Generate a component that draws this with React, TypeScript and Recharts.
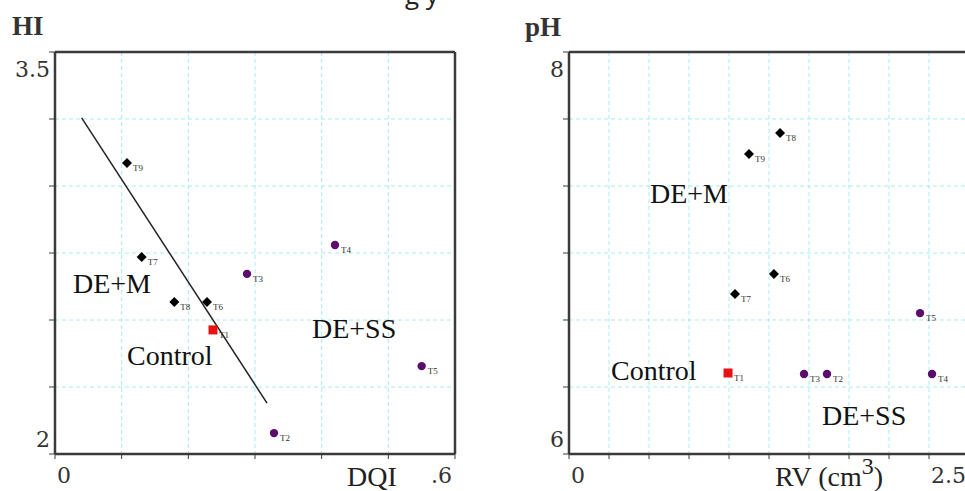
import {
  ScatterChart,
  Scatter,
  XAxis,
  YAxis,
  CartesianGrid,
  ReferenceLine,
  ReferenceDot,
} from "recharts";

// treatments per group, with DQI / HI (left) and RV / pH (right)
const mentNames = ["T6", "T7", "T8", "T9"];
const mentDqi = [0.228, 0.13, 0.179, 0.108];
const mentHi = [2.567, 2.735, 2.567, 3.086];
const mentRv = [1.281, 1.0375, 1.319, 1.125];
const mentPh = [6.896, 6.796, 7.597, 7.493];

const controlNames = ["T1"];
const controlDqi = [0.237];
const controlHi = [2.463];
const controlRv = [0.994];
const controlPh = [6.403];

const ssNames = ["T2", "T3", "T4", "T5"];
const ssDqi = [0.3285, 0.288, 0.42, 0.55];
const ssHi = [2.078, 2.672, 2.78, 2.328];
const ssRv = [1.6125, 1.469, 2.269, 2.194];
const ssPh = [6.398, 6.398, 6.398, 6.701];

// fitted line on the DQI/HI panel
const trendDqi = [0.04, 0.318];
const trendHi = [3.254, 2.19];

const dqiTicks = [0, 0.1, 0.2, 0.3, 0.4, 0.5, 0.6];
const hiTicks = [2, 2.25, 2.5, 2.75, 3, 3.25, 3.5];
const rvTicks = [0, 0.25, 0.5, 0.75, 1, 1.25, 1.5, 1.75, 2, 2.25, 2.5];
const phTicks = [6, 6.3333, 6.6667, 7, 7.3333, 7.6667, 8];

const groupNames = ["DE+M", "Control", "DE+SS"];
const groupDqi = [0.027, 0.108, 0.3855];
const groupHi = [2.601, 2.332, 2.433];
const groupRv = [0.506, 0.2625, 1.581];
const groupPh = [7.249, 6.368, 6.144];

const zip = (names: string[], xs: number[], ys: number[]) =>
  names.map((name, i) => ({ name, x: xs[i], y: ys[i] }));

const SERIF = "Liberation Serif";
const TICKFONT = "DejaVu Serif";
const AXIS = "#3a3a3a";
const GRID = "#a6ecec";

const tag = (p: any) => (
  <text x={p.cx + 6} y={p.cy + 8} fontSize={9} fontFamily={SERIF} fill="#333">
    {p.payload.name}
  </text>
);

const diamond = (p: any) => (
  <g>
    <path
      d={`M${p.cx},${p.cy - 5}L${p.cx + 5},${p.cy}L${p.cx},${p.cy + 5}L${p.cx - 5},${p.cy}Z`}
      fill="#000"
    />
    {tag(p)}
  </g>
);

const dot = (p: any) => (
  <g>
    <circle cx={p.cx} cy={p.cy} r={4.2} fill="#5a0d6a" />
    {tag(p)}
  </g>
);

const square = (p: any) => (
  <g>
    <rect x={p.cx - 4.5} y={p.cy - 4.5} width={9} height={9} fill="#e81212" />
    {tag(p)}
  </g>
);

const yTick = (top: number, bottom: number, topText: string, bottomText: string) => (props: any) => {
  const { x, y, payload } = props;
  const v = payload.value;
  if (v !== top && v !== bottom) return <g />;
  return (
    <text
      x={x + 3}
      y={v === top ? y + 25 : y - 7}
      textAnchor="end"
      fontSize={22}
      fontFamily={TICKFONT}
      fill="#333"
    >
      {v === top ? topText : bottomText}
    </text>
  );
};

const xTick = (first: number, last: number, firstText: string, lastText: string) => (props: any) => {
  const { x, y, payload } = props;
  const v = payload.value;
  if (v !== first && v !== last) return <g />;
  return (
    <text
      x={v === first ? x + 2 : x - 3}
      y={y + 22}
      textAnchor={v === first ? "start" : "end"}
      fontSize={22}
      fontFamily={TICKFONT}
      fill="#333"
    >
      {v === first ? firstText : lastText}
    </text>
  );
};

const groupLabel = (text: string) => (p: any) => (
  <text x={p.cx} y={p.cy} fontSize={28} fontFamily={SERIF} fill="#111">
    {text}
  </text>
);

export default function App() {
  const leftM = zip(mentNames, mentDqi, mentHi);
  const leftC = zip(controlNames, controlDqi, controlHi);
  const leftS = zip(ssNames, ssDqi, ssHi);
  const rightM = zip(mentNames, mentRv, mentPh);
  const rightC = zip(controlNames, controlRv, controlPh);
  const rightS = zip(ssNames, ssRv, ssPh);

  return (
    <div
      style={{
        position: "absolute",
        left: 0,
        top: 0,
        width: 965,
        height: 491,
        overflow: "hidden",
        background: "#fff",
      }}
    >
      <div style={{ position: "absolute", left: 0, top: 0 }}>
        <ScatterChart width={480} height={491} margin={{ top: 52, right: 25, bottom: 0, left: 0 }}>
          <CartesianGrid stroke={GRID} strokeDasharray="4 3" />
          <XAxis
            type="number"
            dataKey="x"
            domain={[0, 0.6]}
            ticks={dqiTicks}
            interval={0}
            height={37}
            tickSize={5}
            axisLine={{ stroke: AXIS, strokeWidth: 2.5 }}
            tickLine={{ stroke: AXIS }}
            tick={xTick(0, 0.6, "0", ".6")}
          />
          <YAxis
            type="number"
            dataKey="y"
            domain={[2, 3.5]}
            ticks={hiTicks}
            interval={0}
            width={55}
            tickSize={6}
            axisLine={{ stroke: AXIS, strokeWidth: 2.5 }}
            tickLine={{ stroke: AXIS }}
            tick={yTick(3.5, 2, "3.5", "2")}
          />
          <ReferenceLine y={3.5} stroke={AXIS} strokeWidth={2.5} />
          <ReferenceLine x={0.6} stroke={AXIS} strokeWidth={2.5} />
          <ReferenceLine
            segment={[
              { x: trendDqi[0], y: trendHi[0] },
              { x: trendDqi[1], y: trendHi[1] },
            ]}
            stroke="#222"
            strokeWidth={1.5}
          />
          {groupNames.map((g, i) => (
            <ReferenceDot key={g} x={groupDqi[i]} y={groupHi[i]} r={0} shape={groupLabel(g)} />
          ))}
          <Scatter data={leftM} shape={diamond} isAnimationActive={false} />
          <Scatter data={leftS} shape={dot} isAnimationActive={false} />
          <Scatter data={leftC} shape={square} isAnimationActive={false} />
        </ScatterChart>
      </div>

      <div style={{ position: "absolute", left: 480, top: 0 }}>
        <ScatterChart width={520} height={491} margin={{ top: 52, right: 31, bottom: 0, left: 34 }}>
          <CartesianGrid stroke={GRID} strokeDasharray="4 3" />
          <XAxis
            type="number"
            dataKey="x"
            domain={[0, 2.5]}
            ticks={rvTicks}
            interval={0}
            height={37}
            tickSize={5}
            axisLine={{ stroke: AXIS, strokeWidth: 2.5 }}
            tickLine={{ stroke: AXIS }}
            tick={xTick(0, 2.5, "0", "2.5")}
          />
          <YAxis
            type="number"
            dataKey="y"
            domain={[6, 8]}
            ticks={phTicks}
            interval={0}
            width={55}
            tickSize={6}
            axisLine={{ stroke: AXIS, strokeWidth: 2.5 }}
            tickLine={{ stroke: AXIS }}
            tick={yTick(8, 6, "8", "6")}
          />
          <ReferenceLine y={8} stroke={AXIS} strokeWidth={2.5} />
          {groupNames.map((g, i) => (
            <ReferenceDot key={g} x={groupRv[i]} y={groupPh[i]} r={0} shape={groupLabel(g)} />
          ))}
          <Scatter data={rightM} shape={diamond} isAnimationActive={false} />
          <Scatter data={rightS} shape={dot} isAnimationActive={false} />
          <Scatter data={rightC} shape={square} isAnimationActive={false} />
        </ScatterChart>
      </div>

      <svg
        width={965}
        height={491}
        style={{ position: "absolute", left: 0, top: 0, pointerEvents: "none" }}
      >
        <text x={405} y={4} fontSize={26} fontFamily="Open Sans" fill="#222">
          g y
        </text>
        <text x={12} y={35} fontSize={27} fontWeight="bold" fontFamily={SERIF} fill="#333">
          HI
        </text>
        <text x={525} y={36} fontSize={27} fontWeight="bold" fontFamily={SERIF} fill="#333">
          pH
        </text>
        <text x={347} y={486} fontSize={28} fontFamily={SERIF} fill="#222">
          DQI
        </text>
        <text x={775} y={486} fontSize={28} fontFamily={SERIF} fill="#222">
          RV (cm
          <tspan fontSize={24} dy={-12}>3</tspan>
          <tspan dy={12}>)</tspan>
        </text>
      </svg>
    </div>
  );
}
